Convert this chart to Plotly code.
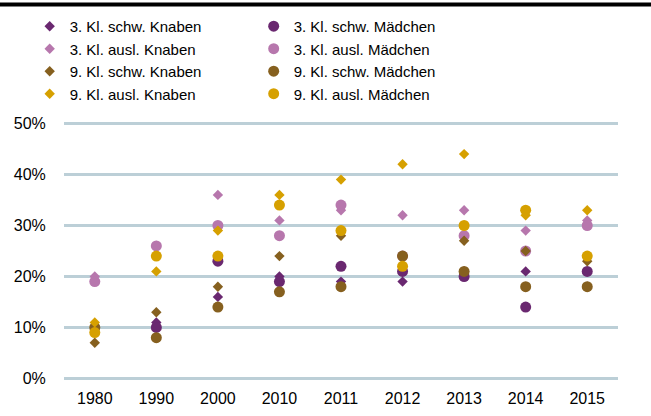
import plotly.graph_objects as go

years = ["1980", "1990", "2000", "2010", "2011", "2012", "2013", "2014", "2015"]

kl3_schw_knaben = [None, 11, 16, 20, 19, 19, 21, 21, 18]
kl3_schw_maedchen = [None, 10, 23, 19, 22, 21, 20, 14, 21]
kl3_ausl_knaben = [20, 26, 36, 31, 33, 32, 33, 29, 31]
kl3_ausl_maedchen = [19, 26, 30, 28, 34, 24, 28, 25, 30]
kl9_schw_knaben = [7, 13, 18, 24, 28, 24, 27, 25, 23]
kl9_schw_maedchen = [10, 8, 14, 17, 18, 24, 21, 18, 18]
kl9_ausl_knaben = [11, 21, 29, 36, 39, 42, 44, 32, 33]
kl9_ausl_maedchen = [9, 24, 24, 34, 29, 22, 30, 33, 24]

y_ticks = [0, 10, 20, 30, 40, 50]

PURPLE = "#6A2870"
PINK = "#B777AD"
BROWN = "#86601F"
GOLD = "#D6A000"

series = [
    ("3. Kl. schw. Knaben", kl3_schw_knaben, PURPLE, "diamond"),
    ("3. Kl. schw. Mädchen", kl3_schw_maedchen, PURPLE, "circle"),
    ("3. Kl. ausl. Knaben", kl3_ausl_knaben, PINK, "diamond"),
    ("3. Kl. ausl. Mädchen", kl3_ausl_maedchen, PINK, "circle"),
    ("9. Kl. schw. Knaben", kl9_schw_knaben, BROWN, "diamond"),
    ("9. Kl. schw. Mädchen", kl9_schw_maedchen, BROWN, "circle"),
    ("9. Kl. ausl. Knaben", kl9_ausl_knaben, GOLD, "diamond"),
    ("9. Kl. ausl. Mädchen", kl9_ausl_maedchen, GOLD, "circle"),
]

fig = go.Figure()
for name, vals, col, sym in series:
    fig.add_trace(go.Scatter(
        x=years, y=[None if v is None else v / 100 for v in vals],
        mode="markers", name=name,
        marker=dict(symbol=sym, color=col, size=8 if sym == "diamond" else 11,
                    line=dict(width=0)),
    ))

W, H = 651, 416
L, R, T, B = 64.3, 33, 121.5, 35.5
pw = W - L - R
ph = H - T - B

fig.update_layout(
    width=W, height=H,
    margin=dict(l=L, r=R, t=T, b=B, pad=0, autoexpand=False),
    paper_bgcolor="white", plot_bgcolor="white",
    font=dict(family="Liberation Sans, Arial, sans-serif", size=16, color="#000000"),
    showlegend=True,
    legend=dict(
        orientation="h", x=(30 - L) / pw, xanchor="left",
        y=(H - B - 9) / ph, yanchor="top",
        entrywidth=179, entrywidthmode="pixels",
        font=dict(size=15), bgcolor="rgba(0,0,0,0)",
        traceorder="normal",
    ),
    xaxis=dict(
        type="category", range=[-0.5, 8.5], showgrid=False, showline=False,
        zeroline=False, ticks="outside", ticklen=4, tickcolor="rgba(0,0,0,0)",
        tickfont=dict(size=16),
    ),
    yaxis=dict(
        range=[-0.003, 0.503], tickvals=[v / 100 for v in y_ticks],
        ticktext=[f"{v}%" for v in y_ticks],
        showgrid=True, gridcolor="#BCCFD7", gridwidth=2.5,
        zeroline=False, showline=False, ticks="outside", ticklen=14,
        tickcolor="rgba(0,0,0,0)", tickfont=dict(size=16),
    ),
    shapes=[dict(
        type="line", xref="paper", yref="paper",
        x0=(0 - L) / pw, x1=(W - L) / pw,
        y0=(H - B - 3.5) / ph, y1=(H - B - 3.5) / ph,
        line=dict(color="black", width=4),
    )],
)

post = (
    "document.documentElement.style.margin='0';"
    "document.documentElement.style.padding='0';"
    "document.documentElement.style.overflow='hidden';"
    "document.body.style.margin='0';"
    "document.body.style.padding='0';"
    "document.body.style.overflow='hidden';"
    "window.scrollTo(0,0);"
)
fig.write_html("out.html", config={"displayModeBar": False}, post_script=post)
